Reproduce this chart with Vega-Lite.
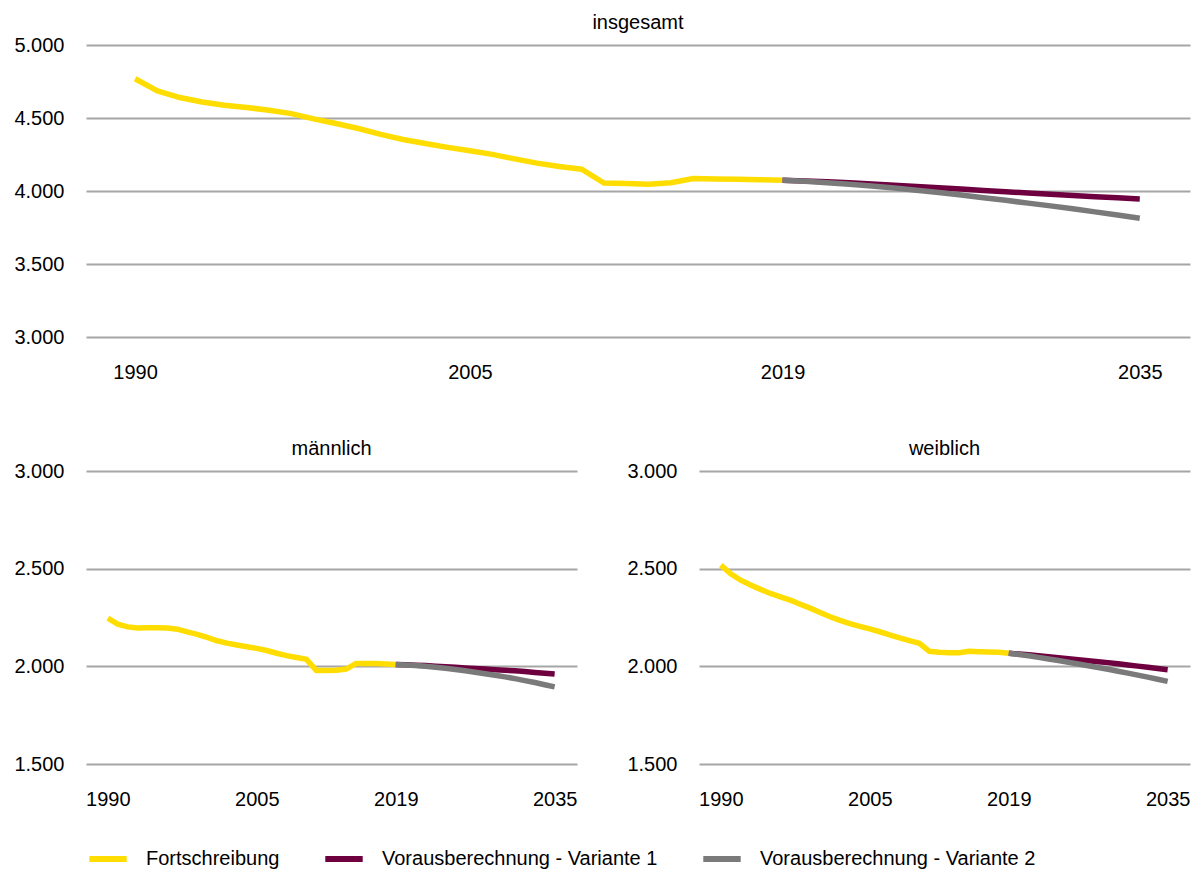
{
 "$schema": "https://vega.github.io/schema/vega-lite/v6.json",
 "padding": {"left": 13, "top": 13, "right": 10, "bottom": 5},
 "config": {
  "font": "Liberation Sans",
  "view": {"stroke": null},
  "axis": {"labelFont": "Liberation Sans", "labelFontSize": 20, "labelColor": "#000000", "ticks": false, "domain": false, "title": null, "gridColor": "#a6a6a6", "gridWidth": 2},
  "title": {"font": "Liberation Sans", "fontSize": 20, "fontWeight": "normal", "color": "#000000", "frame": "group", "anchor": "middle", "offset": 2},
  "legend": {"labelFont": "Liberation Sans", "labelFontSize": 20, "labelColor": "#000000", "labelLimit": 500, "padding": 0, "symbolType": "stroke", "symbolStrokeWidth": 6, "symbolSize": 1400, "labelOffset": 16, "columnPadding": 33, "title": null}
 },
 "datasets": {
  "d": [
   {"p":"insgesamt","s":"Fortschreibung","y":1990,"v":4769},{"p":"insgesamt","s":"Fortschreibung","y":1991,"v":4685},{"p":"insgesamt","s":"Fortschreibung","y":1992,"v":4640},{"p":"insgesamt","s":"Fortschreibung","y":1993,"v":4610},{"p":"insgesamt","s":"Fortschreibung","y":1994,"v":4588},{"p":"insgesamt","s":"Fortschreibung","y":1995,"v":4572},{"p":"insgesamt","s":"Fortschreibung","y":1996,"v":4553},{"p":"insgesamt","s":"Fortschreibung","y":1997,"v":4530},{"p":"insgesamt","s":"Fortschreibung","y":1998,"v":4494},{"p":"insgesamt","s":"Fortschreibung","y":1999,"v":4462},{"p":"insgesamt","s":"Fortschreibung","y":2000,"v":4428},{"p":"insgesamt","s":"Fortschreibung","y":2001,"v":4388},{"p":"insgesamt","s":"Fortschreibung","y":2002,"v":4353},{"p":"insgesamt","s":"Fortschreibung","y":2003,"v":4325},{"p":"insgesamt","s":"Fortschreibung","y":2004,"v":4299},{"p":"insgesamt","s":"Fortschreibung","y":2005,"v":4276},{"p":"insgesamt","s":"Fortschreibung","y":2006,"v":4251},{"p":"insgesamt","s":"Fortschreibung","y":2007,"v":4220},{"p":"insgesamt","s":"Fortschreibung","y":2008,"v":4191},{"p":"insgesamt","s":"Fortschreibung","y":2009,"v":4168},{"p":"insgesamt","s":"Fortschreibung","y":2010,"v":4149},{"p":"insgesamt","s":"Fortschreibung","y":2011,"v":4055},{"p":"insgesamt","s":"Fortschreibung","y":2012,"v":4051},{"p":"insgesamt","s":"Fortschreibung","y":2013,"v":4047},{"p":"insgesamt","s":"Fortschreibung","y":2014,"v":4056},{"p":"insgesamt","s":"Fortschreibung","y":2015,"v":4085},{"p":"insgesamt","s":"Fortschreibung","y":2016,"v":4083},{"p":"insgesamt","s":"Fortschreibung","y":2017,"v":4080},{"p":"insgesamt","s":"Fortschreibung","y":2018,"v":4077},{"p":"insgesamt","s":"Fortschreibung","y":2019,"v":4073},
   {"p":"insgesamt","s":"Vorausberechnung - Variante 1","y":2019,"v":4073},{"p":"insgesamt","s":"Vorausberechnung - Variante 1","y":2020,"v":4069},{"p":"insgesamt","s":"Vorausberechnung - Variante 1","y":2021,"v":4063},{"p":"insgesamt","s":"Vorausberechnung - Variante 1","y":2022,"v":4056},{"p":"insgesamt","s":"Vorausberechnung - Variante 1","y":2023,"v":4048},{"p":"insgesamt","s":"Vorausberechnung - Variante 1","y":2024,"v":4040},{"p":"insgesamt","s":"Vorausberechnung - Variante 1","y":2025,"v":4031},{"p":"insgesamt","s":"Vorausberechnung - Variante 1","y":2026,"v":4022},{"p":"insgesamt","s":"Vorausberechnung - Variante 1","y":2027,"v":4013},{"p":"insgesamt","s":"Vorausberechnung - Variante 1","y":2028,"v":4004},{"p":"insgesamt","s":"Vorausberechnung - Variante 1","y":2029,"v":3995},{"p":"insgesamt","s":"Vorausberechnung - Variante 1","y":2030,"v":3986},{"p":"insgesamt","s":"Vorausberechnung - Variante 1","y":2031,"v":3977},{"p":"insgesamt","s":"Vorausberechnung - Variante 1","y":2032,"v":3969},{"p":"insgesamt","s":"Vorausberechnung - Variante 1","y":2033,"v":3961},{"p":"insgesamt","s":"Vorausberechnung - Variante 1","y":2034,"v":3953},{"p":"insgesamt","s":"Vorausberechnung - Variante 1","y":2035,"v":3945},
   {"p":"insgesamt","s":"Vorausberechnung - Variante 2","y":2019,"v":4073},{"p":"insgesamt","s":"Vorausberechnung - Variante 2","y":2020,"v":4066},{"p":"insgesamt","s":"Vorausberechnung - Variante 2","y":2021,"v":4057},{"p":"insgesamt","s":"Vorausberechnung - Variante 2","y":2022,"v":4046},{"p":"insgesamt","s":"Vorausberechnung - Variante 2","y":2023,"v":4034},{"p":"insgesamt","s":"Vorausberechnung - Variante 2","y":2024,"v":4020},{"p":"insgesamt","s":"Vorausberechnung - Variante 2","y":2025,"v":4005},{"p":"insgesamt","s":"Vorausberechnung - Variante 2","y":2026,"v":3989},{"p":"insgesamt","s":"Vorausberechnung - Variante 2","y":2027,"v":3972},{"p":"insgesamt","s":"Vorausberechnung - Variante 2","y":2028,"v":3954},{"p":"insgesamt","s":"Vorausberechnung - Variante 2","y":2029,"v":3936},{"p":"insgesamt","s":"Vorausberechnung - Variante 2","y":2030,"v":3917},{"p":"insgesamt","s":"Vorausberechnung - Variante 2","y":2031,"v":3898},{"p":"insgesamt","s":"Vorausberechnung - Variante 2","y":2032,"v":3878},{"p":"insgesamt","s":"Vorausberechnung - Variante 2","y":2033,"v":3857},{"p":"insgesamt","s":"Vorausberechnung - Variante 2","y":2034,"v":3835},{"p":"insgesamt","s":"Vorausberechnung - Variante 2","y":2035,"v":3813},
   {"p":"männlich","s":"Fortschreibung","y":1990,"v":2247},{"p":"männlich","s":"Fortschreibung","y":1991,"v":2216},{"p":"männlich","s":"Fortschreibung","y":1992,"v":2202},{"p":"männlich","s":"Fortschreibung","y":1993,"v":2196},{"p":"männlich","s":"Fortschreibung","y":1994,"v":2197},{"p":"männlich","s":"Fortschreibung","y":1995,"v":2198},{"p":"männlich","s":"Fortschreibung","y":1996,"v":2196},{"p":"männlich","s":"Fortschreibung","y":1997,"v":2190},{"p":"männlich","s":"Fortschreibung","y":1998,"v":2176},{"p":"männlich","s":"Fortschreibung","y":1999,"v":2164},{"p":"männlich","s":"Fortschreibung","y":2000,"v":2148},{"p":"männlich","s":"Fortschreibung","y":2001,"v":2131},{"p":"männlich","s":"Fortschreibung","y":2002,"v":2119},{"p":"männlich","s":"Fortschreibung","y":2003,"v":2109},{"p":"männlich","s":"Fortschreibung","y":2004,"v":2100},{"p":"männlich","s":"Fortschreibung","y":2005,"v":2092},{"p":"männlich","s":"Fortschreibung","y":2006,"v":2081},{"p":"männlich","s":"Fortschreibung","y":2007,"v":2067},{"p":"männlich","s":"Fortschreibung","y":2008,"v":2055},{"p":"männlich","s":"Fortschreibung","y":2009,"v":2045},{"p":"männlich","s":"Fortschreibung","y":2010,"v":2036},{"p":"männlich","s":"Fortschreibung","y":2011,"v":1979},{"p":"männlich","s":"Fortschreibung","y":2012,"v":1979},{"p":"männlich","s":"Fortschreibung","y":2013,"v":1980},{"p":"männlich","s":"Fortschreibung","y":2014,"v":1986},{"p":"männlich","s":"Fortschreibung","y":2015,"v":2015},{"p":"männlich","s":"Fortschreibung","y":2016,"v":2015},{"p":"männlich","s":"Fortschreibung","y":2017,"v":2014},{"p":"männlich","s":"Fortschreibung","y":2018,"v":2012},{"p":"männlich","s":"Fortschreibung","y":2019,"v":2009},
   {"p":"männlich","s":"Vorausberechnung - Variante 1","y":2019,"v":2009},{"p":"männlich","s":"Vorausberechnung - Variante 1","y":2020,"v":2008},{"p":"männlich","s":"Vorausberechnung - Variante 1","y":2021,"v":2006},{"p":"männlich","s":"Vorausberechnung - Variante 1","y":2022,"v":2004},{"p":"männlich","s":"Vorausberechnung - Variante 1","y":2023,"v":2001},{"p":"männlich","s":"Vorausberechnung - Variante 1","y":2024,"v":1998},{"p":"männlich","s":"Vorausberechnung - Variante 1","y":2025,"v":1995},{"p":"männlich","s":"Vorausberechnung - Variante 1","y":2026,"v":1992},{"p":"männlich","s":"Vorausberechnung - Variante 1","y":2027,"v":1989},{"p":"männlich","s":"Vorausberechnung - Variante 1","y":2028,"v":1986},{"p":"männlich","s":"Vorausberechnung - Variante 1","y":2029,"v":1983},{"p":"männlich","s":"Vorausberechnung - Variante 1","y":2030,"v":1980},{"p":"männlich","s":"Vorausberechnung - Variante 1","y":2031,"v":1977},{"p":"männlich","s":"Vorausberechnung - Variante 1","y":2032,"v":1973},{"p":"männlich","s":"Vorausberechnung - Variante 1","y":2033,"v":1969},{"p":"männlich","s":"Vorausberechnung - Variante 1","y":2034,"v":1965},{"p":"männlich","s":"Vorausberechnung - Variante 1","y":2035,"v":1961},
   {"p":"männlich","s":"Vorausberechnung - Variante 2","y":2019,"v":2009},{"p":"männlich","s":"Vorausberechnung - Variante 2","y":2020,"v":2007},{"p":"männlich","s":"Vorausberechnung - Variante 2","y":2021,"v":2004},{"p":"männlich","s":"Vorausberechnung - Variante 2","y":2022,"v":2000},{"p":"männlich","s":"Vorausberechnung - Variante 2","y":2023,"v":1995},{"p":"männlich","s":"Vorausberechnung - Variante 2","y":2024,"v":1990},{"p":"männlich","s":"Vorausberechnung - Variante 2","y":2025,"v":1984},{"p":"männlich","s":"Vorausberechnung - Variante 2","y":2026,"v":1977},{"p":"männlich","s":"Vorausberechnung - Variante 2","y":2027,"v":1970},{"p":"männlich","s":"Vorausberechnung - Variante 2","y":2028,"v":1962},{"p":"männlich","s":"Vorausberechnung - Variante 2","y":2029,"v":1954},{"p":"männlich","s":"Vorausberechnung - Variante 2","y":2030,"v":1946},{"p":"männlich","s":"Vorausberechnung - Variante 2","y":2031,"v":1937},{"p":"männlich","s":"Vorausberechnung - Variante 2","y":2032,"v":1927},{"p":"männlich","s":"Vorausberechnung - Variante 2","y":2033,"v":1917},{"p":"männlich","s":"Vorausberechnung - Variante 2","y":2034,"v":1906},{"p":"männlich","s":"Vorausberechnung - Variante 2","y":2035,"v":1895},
   {"p":"weiblich","s":"Fortschreibung","y":1990,"v":2518},{"p":"weiblich","s":"Fortschreibung","y":1991,"v":2474},{"p":"weiblich","s":"Fortschreibung","y":1992,"v":2441},{"p":"weiblich","s":"Fortschreibung","y":1993,"v":2416},{"p":"weiblich","s":"Fortschreibung","y":1994,"v":2394},{"p":"weiblich","s":"Fortschreibung","y":1995,"v":2373},{"p":"weiblich","s":"Fortschreibung","y":1996,"v":2356},{"p":"weiblich","s":"Fortschreibung","y":1997,"v":2339},{"p":"weiblich","s":"Fortschreibung","y":1998,"v":2318},{"p":"weiblich","s":"Fortschreibung","y":1999,"v":2298},{"p":"weiblich","s":"Fortschreibung","y":2000,"v":2276},{"p":"weiblich","s":"Fortschreibung","y":2001,"v":2254},{"p":"weiblich","s":"Fortschreibung","y":2002,"v":2235},{"p":"weiblich","s":"Fortschreibung","y":2003,"v":2219},{"p":"weiblich","s":"Fortschreibung","y":2004,"v":2205},{"p":"weiblich","s":"Fortschreibung","y":2005,"v":2192},{"p":"weiblich","s":"Fortschreibung","y":2006,"v":2177},{"p":"weiblich","s":"Fortschreibung","y":2007,"v":2161},{"p":"weiblich","s":"Fortschreibung","y":2008,"v":2146},{"p":"weiblich","s":"Fortschreibung","y":2009,"v":2132},{"p":"weiblich","s":"Fortschreibung","y":2010,"v":2118},{"p":"weiblich","s":"Fortschreibung","y":2011,"v":2077},{"p":"weiblich","s":"Fortschreibung","y":2012,"v":2072},{"p":"weiblich","s":"Fortschreibung","y":2013,"v":2069},{"p":"weiblich","s":"Fortschreibung","y":2014,"v":2070},{"p":"weiblich","s":"Fortschreibung","y":2015,"v":2077},{"p":"weiblich","s":"Fortschreibung","y":2016,"v":2075},{"p":"weiblich","s":"Fortschreibung","y":2017,"v":2074},{"p":"weiblich","s":"Fortschreibung","y":2018,"v":2072},{"p":"weiblich","s":"Fortschreibung","y":2019,"v":2067},
   {"p":"weiblich","s":"Vorausberechnung - Variante 1","y":2019,"v":2067},{"p":"weiblich","s":"Vorausberechnung - Variante 1","y":2020,"v":2063},{"p":"weiblich","s":"Vorausberechnung - Variante 1","y":2021,"v":2059},{"p":"weiblich","s":"Vorausberechnung - Variante 1","y":2022,"v":2054},{"p":"weiblich","s":"Vorausberechnung - Variante 1","y":2023,"v":2049},{"p":"weiblich","s":"Vorausberechnung - Variante 1","y":2024,"v":2044},{"p":"weiblich","s":"Vorausberechnung - Variante 1","y":2025,"v":2039},{"p":"weiblich","s":"Vorausberechnung - Variante 1","y":2026,"v":2034},{"p":"weiblich","s":"Vorausberechnung - Variante 1","y":2027,"v":2029},{"p":"weiblich","s":"Vorausberechnung - Variante 1","y":2028,"v":2024},{"p":"weiblich","s":"Vorausberechnung - Variante 1","y":2029,"v":2019},{"p":"weiblich","s":"Vorausberechnung - Variante 1","y":2030,"v":2013},{"p":"weiblich","s":"Vorausberechnung - Variante 1","y":2031,"v":2007},{"p":"weiblich","s":"Vorausberechnung - Variante 1","y":2032,"v":2001},{"p":"weiblich","s":"Vorausberechnung - Variante 1","y":2033,"v":1995},{"p":"weiblich","s":"Vorausberechnung - Variante 1","y":2034,"v":1989},{"p":"weiblich","s":"Vorausberechnung - Variante 1","y":2035,"v":1983},
   {"p":"weiblich","s":"Vorausberechnung - Variante 2","y":2019,"v":2067},{"p":"weiblich","s":"Vorausberechnung - Variante 2","y":2020,"v":2061},{"p":"weiblich","s":"Vorausberechnung - Variante 2","y":2021,"v":2054},{"p":"weiblich","s":"Vorausberechnung - Variante 2","y":2022,"v":2046},{"p":"weiblich","s":"Vorausberechnung - Variante 2","y":2023,"v":2038},{"p":"weiblich","s":"Vorausberechnung - Variante 2","y":2024,"v":2030},{"p":"weiblich","s":"Vorausberechnung - Variante 2","y":2025,"v":2021},{"p":"weiblich","s":"Vorausberechnung - Variante 2","y":2026,"v":2012},{"p":"weiblich","s":"Vorausberechnung - Variante 2","y":2027,"v":2003},{"p":"weiblich","s":"Vorausberechnung - Variante 2","y":2028,"v":1994},{"p":"weiblich","s":"Vorausberechnung - Variante 2","y":2029,"v":1985},{"p":"weiblich","s":"Vorausberechnung - Variante 2","y":2030,"v":1975},{"p":"weiblich","s":"Vorausberechnung - Variante 2","y":2031,"v":1965},{"p":"weiblich","s":"Vorausberechnung - Variante 2","y":2032,"v":1955},{"p":"weiblich","s":"Vorausberechnung - Variante 2","y":2033,"v":1945},{"p":"weiblich","s":"Vorausberechnung - Variante 2","y":2034,"v":1934},{"p":"weiblich","s":"Vorausberechnung - Variante 2","y":2035,"v":1923}
  ]
 },
 "spacing": 57,
 "vconcat": [
  {
   "title": "insgesamt",
   "data": {"name": "d"},
   "transform": [{"filter": "datum.p == 'insgesamt'"}],
   "width": 1104, "height": 292,
   "mark": {"type": "line", "strokeWidth": 5.5, "strokeCap": "butt"},
   "encoding": {
    "x": {"field": "y", "type": "quantitative", "scale": {"domain": [1987.8, 2037.25], "nice": false, "zero": false}, "axis": {"values": [1990, 2005, 2019, 2035], "format": "d", "grid": false, "labelPadding": 25}},
    "y": {"field": "v", "type": "quantitative", "scale": {"domain": [3000, 5000], "nice": false, "zero": false}, "axis": {"values": [3000, 3500, 4000, 4500, 5000], "labelExpr": "replace(format(datum.value, ','), ',', '.')", "labelPadding": 22}},
    "color": {"field": "s", "type": "nominal", "scale": {"domain": ["Fortschreibung", "Vorausberechnung - Variante 1", "Vorausberechnung - Variante 2"], "range": ["#ffdd00", "#6e0040", "#7a7a7a"]},
     "legend": {"title": null, "orient": "bottom", "direction": "horizontal", "offset": 28}}
   }
  },
  {
   "spacing": 49,
   "hconcat": [
    {
     "title": "männlich",
     "data": {"name": "d"},
     "transform": [{"filter": "datum.p == 'männlich'"}],
     "width": 491, "height": 293,
     "mark": {"type": "line", "strokeWidth": 5.5, "strokeCap": "butt"},
     "encoding": {
      "x": {"field": "y", "type": "quantitative", "scale": {"domain": [1987.8, 2037.25], "nice": false, "zero": false}, "axis": {"values": [1990, 2005, 2019, 2035], "format": "d", "grid": false, "labelPadding": 25}},
      "y": {"field": "v", "type": "quantitative", "scale": {"domain": [1500, 3000], "nice": false, "zero": false}, "axis": {"values": [1500, 2000, 2500, 3000], "labelExpr": "replace(format(datum.value, ','), ',', '.')", "labelPadding": 22}},
      "color": {"field": "s", "type": "nominal", "legend": {"title": null, "orient": "bottom", "direction": "horizontal", "offset": 28}}
     }
    },
    {
     "title": "weiblich",
     "data": {"name": "d"},
     "transform": [{"filter": "datum.p == 'weiblich'"}],
     "width": 491, "height": 293,
     "mark": {"type": "line", "strokeWidth": 5.5, "strokeCap": "butt"},
     "encoding": {
      "x": {"field": "y", "type": "quantitative", "scale": {"domain": [1987.8, 2037.25], "nice": false, "zero": false}, "axis": {"values": [1990, 2005, 2019, 2035], "format": "d", "grid": false, "labelPadding": 25}},
      "y": {"field": "v", "type": "quantitative", "scale": {"domain": [1500, 3000], "nice": false, "zero": false}, "axis": {"values": [1500, 2000, 2500, 3000], "labelExpr": "replace(format(datum.value, ','), ',', '.')", "labelPadding": 22}},
      "color": {"field": "s", "type": "nominal", "legend": {"title": null, "orient": "bottom", "direction": "horizontal", "offset": 28}}
     }
    }
   ]
  }
 ]
}
